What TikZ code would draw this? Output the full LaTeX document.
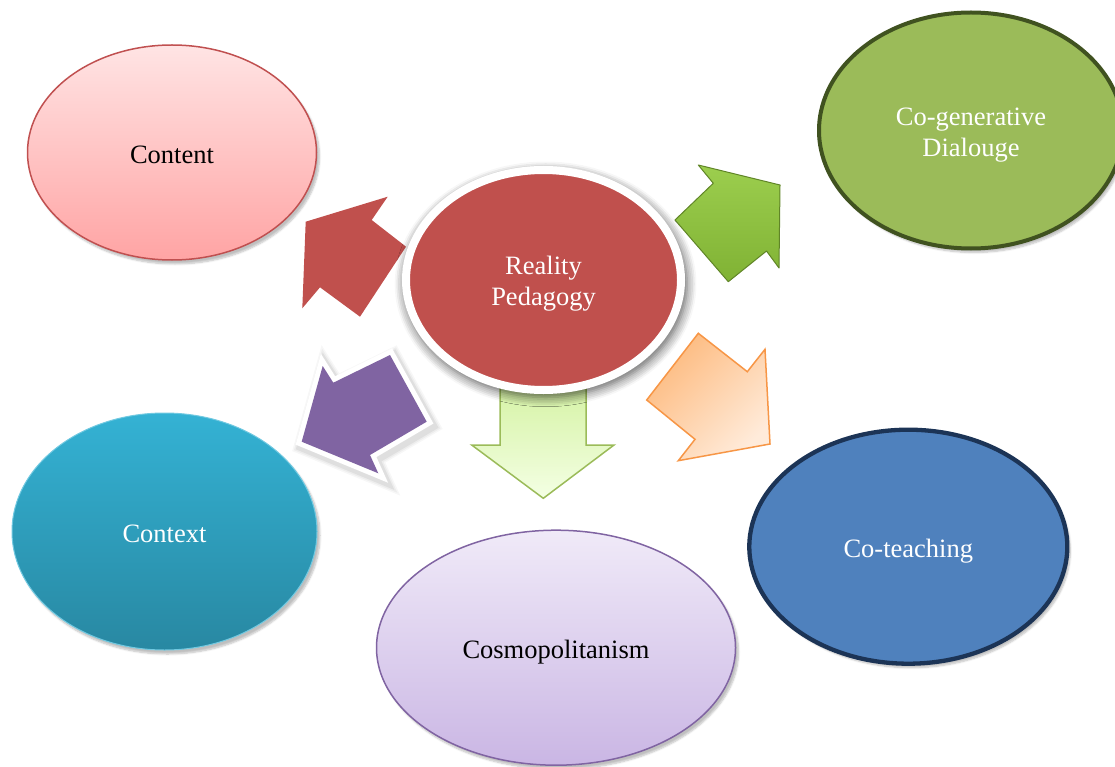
\documentclass[tikz,border=0pt]{standalone}
\usepackage{fontspec}
\setmainfont{Liberation Serif}
\usepackage{xcolor}
\definecolor{rpred}{RGB}{192,80,77}
\definecolor{cggreen}{RGB}{155,187,89}
\definecolor{cgdark}{RGB}{64,82,32}
\definecolor{ctblue}{RGB}{79,129,189}
\definecolor{ctnavy}{RGB}{28,52,86}
\definecolor{cnborder}{RGB}{192,80,80}
\definecolor{cntop}{RGB}{255,228,228}
\definecolor{cnbot}{RGB}{255,164,164}
\definecolor{cxtop}{RGB}{52,178,212}
\definecolor{cxbot}{RGB}{40,136,162}
\definecolor{cmborder}{RGB}{128,100,162}
\definecolor{cmtop}{RGB}{240,234,248}
\definecolor{cmbot}{RGB}{202,182,228}
\definecolor{myorange}{RGB}{247,150,70}
\definecolor{ortop}{RGB}{253,186,126}
\definecolor{orbot}{RGB}{255,235,218}
\definecolor{lgtop}{RGB}{212,242,162}
\definecolor{lgbot}{RGB}{244,255,228}
\definecolor{arrgreen}{RGB}{156,206,78}
\definecolor{arrgreendk}{RGB}{128,178,52}
\definecolor{mypurple}{RGB}{128,100,162}
\usepackage{tikz}
\usetikzlibrary{shapes.geometric,shadows.blur}

\begin{document}
\begin{tikzpicture}[x=1pt, y=-1pt,
  bubble/.style={ellipse, inner sep=0pt, align=center,
                 font=\fontsize{26.5}{31}\selectfont,
                 text height=22pt, text depth=0pt,
                 blur shadow={shadow xshift=3pt, shadow yshift=-4pt,
                              shadow opacity=25, shadow blur steps=6}},
  twoline/.style={text height=51.3pt, text depth=0pt},
  redarr/.style={fill=rpred},
  grnarr/.style={top color=arrgreen, bottom color=arrgreendk,
                 draw=arrgreendk!75!black, line width=1pt, line join=round},
  orarr/.style={top color=ortop, bottom color=orbot, shading angle=45,
                draw=myorange, line width=1.5pt},
  dnarr/.style={top color=lgtop, bottom color=lgbot,
                draw=cggreen, line width=1.5pt},
  purrim/.style={draw=white, line width=10pt},
  purarr/.style={fill=mypurple}
]
  \useasboundingbox (0,0) rectangle (1115,767);

  % block arrows around the centre
  \path[redarr] (305.7,221.7) -- (387.7,196.7) -- (371.7,220) -- (406,246.7)
    -- (360,316.7) -- (320,287.3) -- (302.3,308.3) -- cycle;
  \path[grnarr] (780,185) -- (698.3,165) -- (713.3,183.3) -- (675,220)
    -- (728.3,281.7) -- (766.5,251) -- (779,268) -- cycle;
  \path[orarr] (698.3,333.3) -- (747.3,371.7) -- (765,349.3) -- (770,444)
    -- (678.3,460.7) -- (695,439.3) -- (646.7,400) -- cycle;
  \path[dnarr] (500,380) -- (500,445) -- (471.7,445) -- (543.3,498.3)
    -- (614,445) -- (586,445) -- (586,380) -- cycle;

  % purple arrow: soft shadow, white rim, fill
  \def\purpoly{(301.7,441.7) -- (322.7,366) -- (333.3,382.7) -- (390,355)
    -- (426.7,421.7) -- (370,455) -- (378.3,473.3) -- cycle}
  \foreach \w/\o in {20/0.03, 17/0.04, 14/0.06}
    \path[draw=black, opacity=\o, line width=\w pt, xshift=2.5pt, yshift=-3.5pt] \purpoly;
  \path[purrim] \purpoly;
  \path[purarr] \purpoly;

  \node[bubble, twoline, fill=rpred, draw=white, line width=8pt, text=white,
        blur shadow={shadow xshift=2pt, shadow yshift=-4pt, shadow opacity=35,
                     shadow blur radius=9pt, shadow scale=1.03},
        minimum width=275pt, minimum height=220pt] (reality) at (543.5,280)
        {Reality\\Pedagogy};

  \node[bubble, top color=cntop, bottom color=cnbot, draw=cnborder, line width=1.5pt,
        minimum width=289pt, minimum height=215pt] (content) at (172,152.5) {Content};
  \node[bubble, twoline, fill=cggreen, draw=cgdark, line width=4pt, text=white,
        minimum width=304pt, minimum height=236pt] (cogen) at (971,130.5)
        {Co-generative\\Dialouge};
  \node[bubble, top color=cxtop, bottom color=cxbot, draw=cxtop!70!white, line width=1pt,
        text=white, minimum width=305pt, minimum height=237pt] (context) at (164.5,531.5)
        {Context};
  \node[bubble, top color=cmtop, bottom color=cmbot, draw=cmborder, line width=1.5pt,
        minimum width=359pt, minimum height=235pt] (cosmo) at (556,647.7)
        {Cosmopolitanism};
  \node[bubble, fill=ctblue, draw=ctnavy, line width=4.3pt, text=white,
        minimum width=318pt, minimum height=234pt] (coteach) at (908.3,546.7)
        {Co-teaching};
\end{tikzpicture}
\end{document}
